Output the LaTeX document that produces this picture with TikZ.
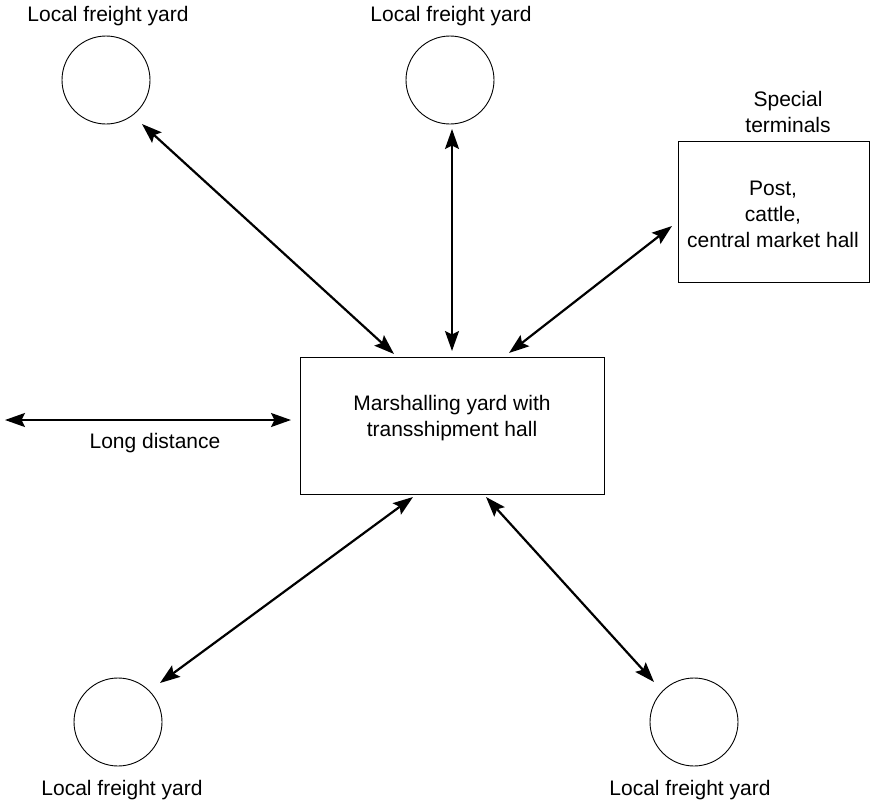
\documentclass[tikz,border=0pt]{standalone}
\usepackage{fontspec}
\setmainfont{Liberation Sans}
\usetikzlibrary{arrows.meta}
\begin{document}
\begin{tikzpicture}[x=1pt,y=-1pt,
  lbl/.style={font=\fontsize{21}{26}\selectfont, align=center, inner sep=0pt},
  yard/.style={draw, circle, minimum size=88pt, inner sep=0pt, line width=0.9pt},
  boxnode/.style={draw, rectangle, line width=0.9pt, inner sep=0pt},
  tip/.style={Stealth[length=20pt,width=14pt,inset=3.5pt]},
  link/.style={line width=2.2pt, {Stealth[length=20pt,width=14pt,inset=3.5pt]}-{Stealth[length=20pt,width=14pt,inset=3.5pt]}}
]
\useasboundingbox (0,0) rectangle (870,803);
% local freight yards
\node[yard] (y1) at (106,80) {};
\node[lbl] (t1) at (108,16) {Local freight yard};
\node[yard] (y2) at (450,80) {};
\node[lbl] (t2) at (451,16) {Local freight yard};
\node[yard] (y3) at (118,722) {};
\node[lbl] (t3) at (122,790) {Local freight yard};
\node[yard] (y4) at (694,722) {};
\node[lbl] (t4) at (690,790) {Local freight yard};
% special terminals
\node[boxnode, minimum width=191pt, minimum height=141pt] (st) at (773.5,211.5) {};
\node[lbl] (sttext) at (773,214) {Post,\\cattle,\\central market hall};
\node[lbl] (stlabel) at (788,112) {Special\\terminals};
% marshalling yard
\node[boxnode, minimum width=304pt, minimum height=137pt] (my) at (452,425.5) {};
\node[lbl] (mytext) at (452,418) {Marshalling yard with\\transshipment hall};
% long distance
\coordinate (ldl) at (5,420);
\coordinate (ldr) at (291,420);
\node[lbl] (ldtext) at (155,443) {Long distance};
% connector end points
\coordinate (a1s) at (142,124);
\coordinate (a1e) at (394,354);
\coordinate (a2s) at (452,129);
\coordinate (a2e) at (452,351);
\coordinate (a3s) at (509,353);
\coordinate (a3e) at (672,226);
\coordinate (a4s) at (413,497);
\coordinate (a4e) at (160,683);
\coordinate (a5s) at (486,497);
\coordinate (a5e) at (654,682);
\draw[link] (ldl) -- (ldr);
\draw[link] (a1s) -- (a1e);
\draw[link] (a2s) -- (a2e);
\draw[link] (a3s) -- (a3e);
\draw[link] (a4s) -- (a4e);
\draw[link] (a5s) -- (a5e);
\end{tikzpicture}
\end{document}
